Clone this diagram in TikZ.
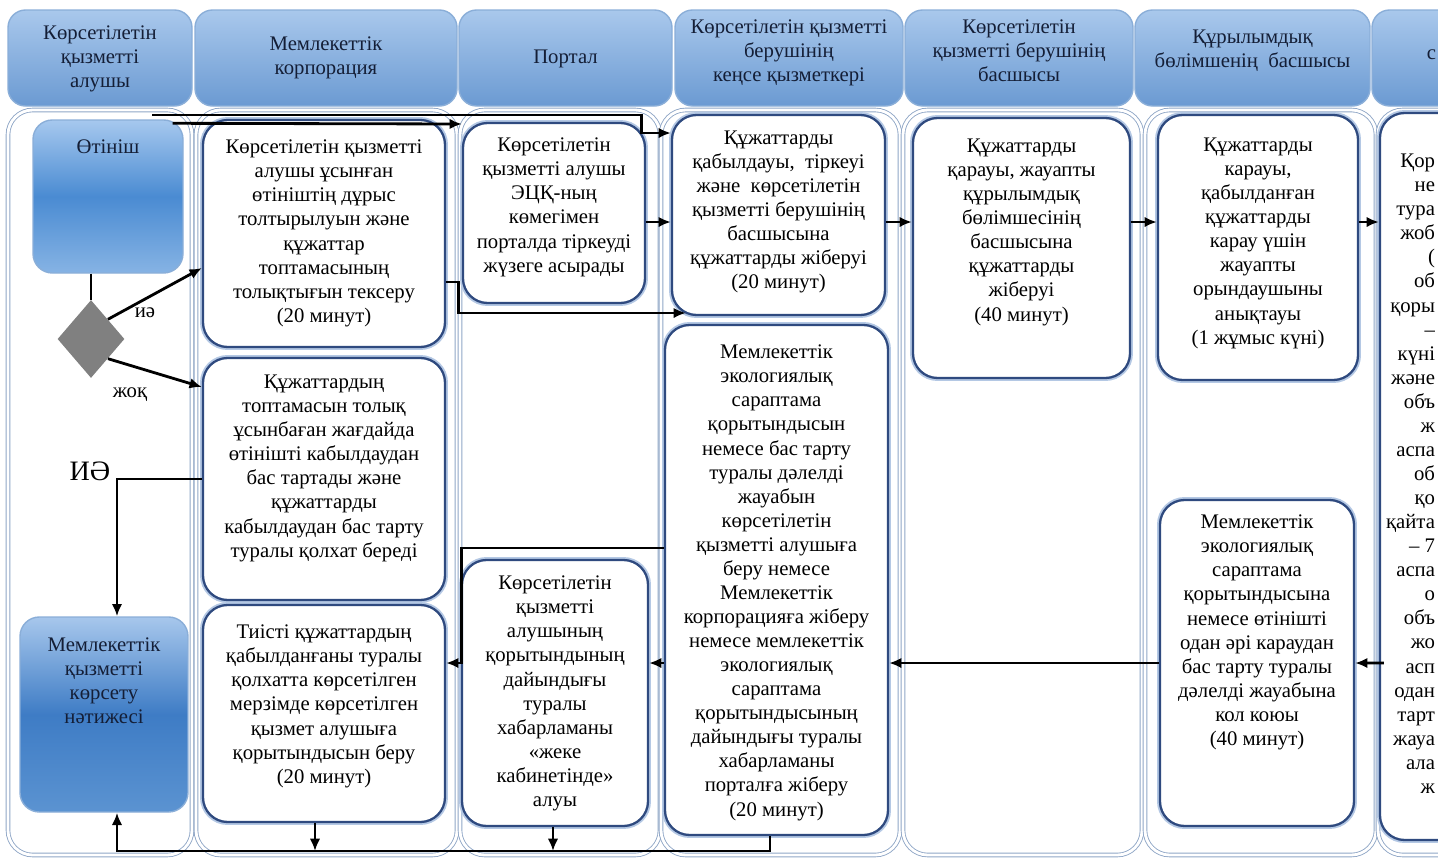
\documentclass[tikz,border=0pt]{standalone}
\usepackage{fontspec}
\setmainfont{Liberation Serif}
\usepackage{tikz}
\usepackage{xcolor}
\usetikzlibrary{calc,positioning,arrows.meta,shapes.geometric}

\newlength{\px}
\setlength{\px}{0.02cm}
\newcommand{\celltxt}[4]{\parbox[c][#2\px][t]{#1\px}{\centering\vspace*{#3\px}#4\par}}
\newcommand{\frag}[1]{\makebox[55\px][r]{#1}}

\definecolor{boxline}{HTML}{2F4A7F}
\definecolor{boxglow}{HTML}{B4C8E4}
\definecolor{laneline}{HTML}{8FA6C6}
\definecolor{hdtop}{HTML}{A9C8EC}
\definecolor{hdbot}{HTML}{6B9AD2}
\definecolor{hdline}{HTML}{8AAED8}
\definecolor{hdtext}{HTML}{141E36}
\definecolor{apptop}{HTML}{A6C8EE}
\definecolor{appmid}{HTML}{4A8BD2}
\definecolor{appbot}{HTML}{86B3E4}
\definecolor{restop}{HTML}{A7C7EC}
\definecolor{resmid}{HTML}{3E7CC5}
\definecolor{resbot}{HTML}{5B93D1}
\definecolor{decgray}{HTML}{808080}

\begin{document}
\begin{tikzpicture}[x=0.02cm,y=-0.02cm,
	every node/.style={font=\fontsize{11.8}{13.7}\selectfont},
	lane/.style={draw=laneline, double=white, double distance=1.6pt, line width=0.5pt, rounded corners=14pt, inner sep=0pt},
	header/.style={rounded corners=10pt, top color=hdtop, bottom color=hdbot, draw=hdline, line width=0.8pt, inner sep=0pt, text=hdtext},
	proc/.style={draw=boxline, line width=1.3pt, rounded corners=14pt, fill=white, inner sep=0pt, preaction={draw=boxglow, line width=3.4pt}},
	bluebox/.style={rounded corners=11pt, draw=hdline, line width=0.8pt, inner sep=0pt, text=hdtext},
	dia/.style={diamond, fill=decgray, inner sep=0pt, minimum width=67\px, minimum height=78\px},
	line/.style={line width=1.6pt, -{Latex[length=7pt,width=6pt]}},
	link/.style={line width=1.6pt}]

	\useasboundingbox (0,0) rectangle (1438,859);
	\clip (0,0) rectangle (1438,859);

	\node[header] (hd1) at(100,58){\celltxt{184}{96}{16}{Көрсетілетін\\қызметті\\алушы}};
	\node[header] (hd2) at(326,58){\celltxt{262}{96}{27}{Мемлекеттік\\корпорация}};
	\node[header] (hd3) at(565.5,58){\celltxt{213}{96}{40}{Портал}};
	\node[header] (hd4) at(789,58){\celltxt{228}{96}{10}{Көрсетілетін қызметті\\берушінің\\кеңсе қызметкері}};
	\node[header] (hd5) at(1019,58){\celltxt{228}{96}{10}{Көрсетілетін\\қызметті берушінің\\басшысы}};
	\node[header] (hd6) at(1252.5,58){\celltxt{235}{96}{20}{Құрылымдық\\бөлімшенің~ басшысы}};
	\node[header] (hd7) at(1486,58){\parbox[c][96\px][t]{228\px}{\raggedright\vspace*{40\px}\hspace*{9\px}\frag{с}\par}};

	\node[lane, minimum width=184\px, minimum height=745\px] (lane1) at(100,482.5){};
	\node[lane, minimum width=261\px, minimum height=745\px] (lane2) at(326.5,482.5){};
	\node[lane, minimum width=200\px, minimum height=745\px] (lane3) at(560,482.5){};
	\node[lane, minimum width=239\px, minimum height=745\px] (lane4) at(780.5,482.5){};
	\node[lane, minimum width=239\px, minimum height=745\px] (lane5) at(1022.5,482.5){};
	\node[lane, minimum width=231\px, minimum height=745\px] (lane6) at(1260.5,482.5){};
	\node[lane, minimum width=230\px, minimum height=745\px] (lane7) at(1493,482.5){};

	\node[bluebox, top color=apptop, bottom color=appbot, middle color=appmid] (app) at(108,196.5){\celltxt{150}{153}{20}{Өтініш}};
	\node[bluebox, top color=restop, bottom color=resbot, middle color=resmid] (res) at(104,714.5){\celltxt{168}{195}{21}{Мемлекеттік\\қызметті\\көрсету\\нәтижесі}};
	\node[dia] (dec) at(91,339){};

	\node[proc] (chk) at(324,233.5){\celltxt{242}{227}{20}{Көрсетілетін қызметті\\алушы ұсынған\\өтініштің дұрыс\\толтырылуын және\\құжаттар\\топтамасының\\толықтығын тексеру\\(20 минут)}};
	\node[proc] (rej) at(324,479){\celltxt{242}{242}{17}{Құжаттардың\\топтамасын толық\\ұсынбаған жағдайда\\өтінішті кабылдаудан\\бас тартады және\\құжаттарды\\кабылдаудан бас тарту\\туралы қолхат береді}};
	\node[proc] (iss) at(324,713.5){\celltxt{242}{217}{20}{Тиісті құжаттардың\\қабылданғаны туралы\\қолхатта көрсетілген\\мерзімде көрсетілген\\қызмет алушыға\\қорытындысын беру\\(20 минут)}};

	\node[proc] (reg) at(554,213){\celltxt{182}{180}{15}{Көрсетілетін\\қызметті алушы\\ЭЦҚ-ның\\көмегімен\\порталда тіркеуді\\жүзеге асырады}};
	\node[proc] (ntf) at(555,693){\celltxt{186}{266}{16}{Көрсетілетін\\қызметті\\алушының\\қорытындының\\дайындығы\\туралы\\хабарламаны\\«жеке\\кабинетінде»\\алуы}};

	\node[proc] (acc) at(778.5,215){\celltxt{213}{200}{16}{Құжаттарды\\қабылдауы,~ тіркеуі\\және~ көрсетілетін\\қызметті берушінің\\басшысына\\құжаттарды жіберуі\\(20 минут)}};
	\node[proc] (snd) at(776.5,580){\celltxt{223}{510}{20}{Мемлекеттік\\экологиялық\\сараптама\\қорытындысын\\немесе бас тарту\\туралы дәлелді\\жауабын\\көрсетілетін\\қызметті алушыға\\беру немесе\\Мемлекеттік\\корпорацияға жіберу\\немесе мемлекеттік\\экологиялық\\сараптама\\қорытындысының\\дайындығы туралы\\хабарламаны\\порталға жіберу\\(20 минут)}};

	\node[proc] (dir) at(1021.5,248){\celltxt{217}{260}{21}{Құжаттарды\\қарауы, жауапты\\құрылымдық\\бөлімшесінің\\басшысына\\құжаттарды\\жіберуі\\(40 минут)}};

	\node[proc] (asg) at(1258,247.5){\celltxt{200}{265}{23}{Құжаттарды\\карауы,\\қабылданған\\құжаттарды\\карау үшін\\жауапты\\орындаушыны\\анықтауы\\(1 жұмыс күні)}};
	\node[proc] (sgn) at(1257,663){\celltxt{194}{326}{15}{Мемлекеттік\\экологиялық\\сараптама\\қорытындысына\\немесе өтінішті\\одан әрі караудан\\бас тарту туралы\\дәлелді жауабына\\кол коюы\\(40 минут)}};

	\node[proc] (prep) at(1480,476.5){\parbox[c][727\px][t]{200\px}{\raggedright\vspace*{41\px}%
		\frag{Қор}\\\frag{не}\\\frag{тура}\\\frag{жоб}\\\frag{(}\\%
		\frag{об}\\\frag{қоры}\\\frag{–}\\\frag{күні}\\\frag{және}\\%
		\frag{объ}\\\frag{ж}\\\frag{аспа}\\\frag{об}\\\frag{қо}\\%
		\frag{қайта}\\\frag{– 7}\\\frag{аспа}\\\frag{о}\\\frag{объ}\\%
		\frag{жо}\\\frag{асп}\\\frag{одан}\\\frag{тарт}\\\frag{жауа}\\%
		\frag{ала}\\\frag{ж}\par}};

	\node (yes) at(145,313){иә};
	\node (no) at(130,395){жоқ};
	\node[font=\fontsize{16}{19}\selectfont] (yesbig) at(90,471){ИӘ};

	\coordinate (topin) at(152,115);
	\coordinate (bus) at(0,851);

	\draw[link] (app.south -| dec.north) -- (dec.north);
	\draw[line] (dec.north east) -- ([yshift=-34.5\px]chk.west);
	\draw[line] (dec.south east) -- ([yshift=92\px]rej.west);
	\draw[line] (rej.west) -| ([xshift=13\px]res.north);

	\draw[line] (topin) -| ([xshift=-29\px,yshift=82\px]acc.west) -- ([yshift=82\px]acc.west);
	\draw[line] ([xshift=-11\px,yshift=-4\px]app.north east) -- ([yshift=89\px]reg.west);
	\draw[line] ([yshift=-48.5\px]chk.east) -- ++(12,0) |- ([xshift=15\px,yshift=-98\px]acc.west);

	\draw[line] ([yshift=-9\px]reg.east) -- ([yshift=-7\px]acc.west);
	\draw[line] ([yshift=-7\px]acc.east) -- ([yshift=26\px]dir.west);
	\draw[line] ([yshift=26\px]dir.east) -- ([yshift=25.5\px]asg.west);
	\draw[line] ([yshift=25.5\px]asg.east) -- ([yshift=254.5\px]prep.west);

	\draw[line] ([xshift=5\px,yshift=-186.5\px]prep.west) -- (sgn.east);
	\draw[line] (sgn.west) -- ([yshift=-83\px]snd.east);
	\draw[line] ([yshift=-83\px]snd.west) -- ([yshift=30\px]ntf.east);
	\draw[line] ([yshift=32\px]snd.west) -| ([xshift=15\px,yshift=50.5\px]iss.east) -- ([yshift=50.5\px]iss.east);

	\draw[line] ([xshift=-6.5\px]snd.south) |- ([xshift=13\px]res.south |- bus) -- ([xshift=13\px]res.south);
	\draw[line] ([xshift=-9\px]iss.south) -- ([xshift=-9\px]iss.south |- bus);
	\draw[line] ([xshift=-2\px]ntf.south) -- ([xshift=-2\px]ntf.south |- bus);
\end{tikzpicture}
\end{document}
